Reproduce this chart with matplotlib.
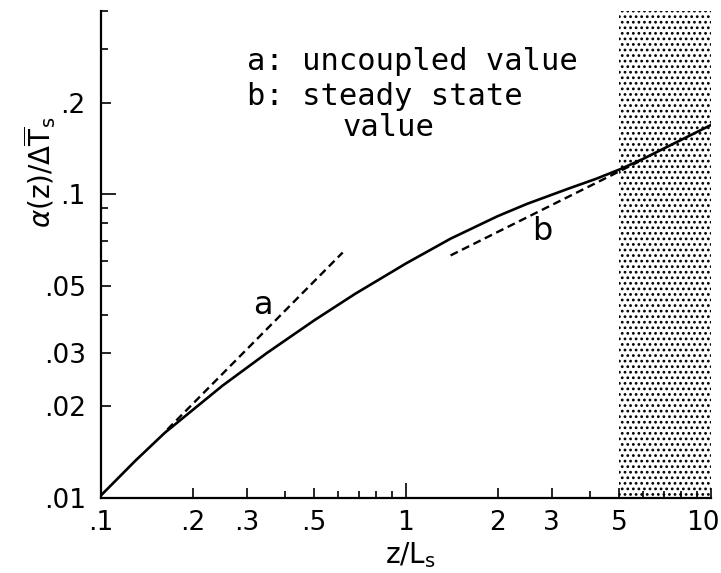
import matplotlib
matplotlib.use('Agg')
import matplotlib.pyplot as plt
import matplotlib.transforms as mtransforms
from matplotlib.ticker import FixedLocator, FixedFormatter, NullFormatter

# ---- data ----
curve_x = [0.1, 0.13, 0.162, 0.25, 0.35, 0.5, 0.68, 1.0, 1.4, 2.0, 2.5, 3.43,
           4.2, 5.0, 6.0, 7.0, 8.5, 10.0]
curve_y = [0.0102, 0.0133, 0.0164, 0.0234, 0.0300, 0.0384, 0.0469, 0.0591, 0.0713,
           0.0846, 0.0929, 0.1044, 0.1122, 0.1203, 0.1306, 0.1411, 0.1555, 0.1687]
a_x = [0.165, 0.62]
a_y = [0.0168, 0.0642]
b_x = [1.4, 5.8]
b_y = [0.0628, 0.1278]
shade_x = [5, 10]

xticks = [0.1, 0.2, 0.3, 0.5, 1, 2, 3, 5, 10]
xticklabels = ['.1', '.2', '.3', '.5', '1', '2', '3', '5', '10']
xminor = [0.4, 0.6, 0.7, 0.8, 0.9, 4, 6, 7, 8, 9]
yticks = [0.01, 0.02, 0.03, 0.05, 0.1, 0.2]
yticklabels = ['.01', '.02', '.03', '.05', '.1', '.2']
yminor = [0.04, 0.06, 0.07, 0.08, 0.09, 0.3, 0.4]

plt.rcParams['font.family'] = ['DejaVu Sans']
plt.rcParams['hatch.linewidth'] = 1.2

fig = plt.figure(figsize=(7.21, 5.73), dpi=100)
ax = fig.add_axes([101 / 721, 75 / 573, 610 / 721, 487 / 573])
ax.set_xscale('log')
ax.set_yscale('log')
ax.set_xlim(0.1, 10)
ax.set_ylim(0.01, 0.4)

ax.axvspan(shade_x[0], shade_x[1], facecolor='white', edgecolor='black',
           hatch='...', linewidth=0, zorder=0)

ax.plot(curve_x, curve_y, color='black', lw=1.9, solid_capstyle='round', zorder=3)
ax.plot(a_x, a_y, color='black', lw=1.7, dashes=(3.4, 2.0), zorder=3)
ax.plot(b_x, b_y, color='black', lw=1.7, dashes=(3.4, 2.0), zorder=3)

ax.text(0.34, 0.0431, 'a', fontsize=23, ha='center', va='center')
ax.text(2.80, 0.0750, 'b', fontsize=23, ha='center', va='center')

mono = ['DejaVu Sans Mono']
fig.text(247 / 721, 1 - 62 / 573, 'a: uncoupled value', fontsize=22, ha='left',
         va='center', family=mono)
fig.text(247 / 721, 1 - 97 / 573, 'b: steady state', fontsize=22, ha='left',
         va='center', family=mono)
fig.text(388 / 721, 1 - 128 / 573, 'value', fontsize=22, ha='center', va='center',
         family=mono)

for s in ['top', 'right']:
    ax.spines[s].set_visible(False)
for s in ['left', 'bottom']:
    ax.spines[s].set_linewidth(1.6)

ax.xaxis.set_major_locator(FixedLocator(xticks))
ax.xaxis.set_major_formatter(FixedFormatter(xticklabels))
ax.xaxis.set_minor_locator(FixedLocator(xminor))
ax.xaxis.set_minor_formatter(NullFormatter())
ax.yaxis.set_major_locator(FixedLocator(yticks))
ax.yaxis.set_major_formatter(FixedFormatter(yticklabels))
ax.yaxis.set_minor_locator(FixedLocator(yminor))
ax.yaxis.set_minor_formatter(NullFormatter())

ax.tick_params(which='major', direction='in', length=7, width=1.2, labelsize=19, pad=9)
ax.tick_params(which='minor', direction='in', length=5, width=1.2)
ax.tick_params(axis='y', which='major', pad=11)

xt = ax.xaxis.get_major_ticks()
for t, v in zip(xt, xticks):
    if v == 1:
        t.tick1line.set_markersize(11)
for t, v in zip(ax.yaxis.get_major_ticks(), yticks):
    if v == 0.1:
        t.tick1line.set_markersize(11)

# keep the "10" label inside the figure, as in the reference
offset = mtransforms.ScaledTranslation(-8 / 100, 0, fig.dpi_scale_trans)
lab10 = xt[-1].label1
lab10.set_transform(lab10.get_transform() + offset)

fig.text(410 / 721, 1 - 555 / 573, r'z/L$_{\mathrm{s}}$', fontsize=20, ha='center', va='center')
fig.text(40 / 721, 1 - 172 / 573, r'$\alpha$(z)/$\Delta\overline{\mathrm{T}}_{\mathrm{s}}$',
         fontsize=20, ha='center', va='center', rotation=90)

fig.savefig('out.png', dpi=100)
